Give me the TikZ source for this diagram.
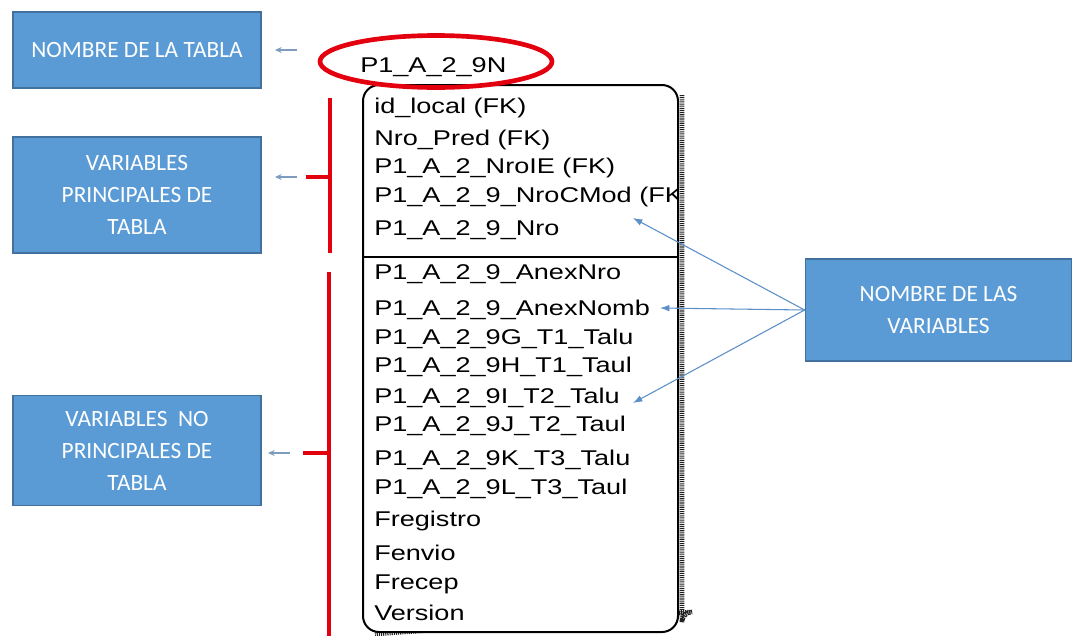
\documentclass[tikz,border=0pt]{standalone}
\usepackage{fontspec}
\setmainfont{Liberation Sans}
\newfontfamily\boxfont{Carlito}
\newfontfamily\tabfont[FakeStretch=1.27]{Liberation Sans}
\usetikzlibrary{arrows.meta,shapes.geometric}
\definecolor{boxblue}{HTML}{5B9BD5}
\definecolor{boxedge}{HTML}{41719C}
\definecolor{pointer}{HTML}{5B8FC8}
\definecolor{hintcol}{HTML}{7D9CBE}
\definecolor{markred}{HTML}{E3000F}
\tikzset{
  labelbox/.style={draw=boxedge,fill=boxblue,line width=0.8pt,text=white,
    font=\boxfont\fontsize{17.5}{24}\selectfont,align=center,inner sep=0pt},
  field/.style={anchor=west,inner sep=0pt,font=\tabfont\fontsize{16}{18}\selectfont},
  pointer/.style={draw=pointer,line width=0.8pt,-{Latex[length=7pt,width=5pt]}},
  hint/.style={draw=hintcol,line width=0.9pt,-{Stealth[length=5pt,width=4.5pt]}},
  bracket/.style={draw=markred,line width=3pt},
}
\begin{document}
\begin{tikzpicture}[x=0.75pt,y=-0.75pt]
  \useasboundingbox (0,0) rectangle (1072,636);
  % recuadros azules
  \node[labelbox,minimum width=186pt,minimum height=57pt] (nomtabla) at (137,50) {NOMBRE DE LA TABLA};
  \node[labelbox,minimum width=186pt,minimum height=87pt] (varprin) at (137,195) {VARIABLES\\PRINCIPALES DE\\TABLA};
  \node[labelbox,minimum width=186pt,minimum height=83pt] (varnoprin) at (137,450.5) {VARIABLES~~NO\\PRINCIPALES DE\\TABLA};
  \node[labelbox,minimum width=200pt,minimum height=76.5pt] (nomvars) at (938.5,310) {NOMBRE DE LAS\\VARIABLES};
  % tabla
  \draw[gray!25!black,line width=3.5pt,dash pattern=on 0.8pt off 0.8pt]
    (682,95) -- (682,622) arc (0:90:-10) -- (375,634);
  \node[draw,fill=white,rounded corners=12pt,line width=1.5pt,minimum width=236.25pt,minimum height=410.25pt] (tabla) at (520.5,358.5) {};
  \draw[line width=1.5pt] (tabla.west |- 0,257) -- (tabla.east |- 0,257);
  \node[ellipse,draw=markred,line width=3.5pt,minimum width=174pt,minimum height=39pt] (tname) at (436,61.5) {};
  \node[field] (tlabel) at (360,67) {P1\_A\_2\_9N};
  \begin{scope}
    \clip (363,85) rectangle (677,632);
    \foreach \y/\n/\t in {108/f1/id\_local (FK),
                          140/f2/Nro\_Pred (FK),
                          168/f3/P1\_A\_2\_NroIE (FK),
                          197/f4/P1\_A\_2\_9\_NroCMod (FK),
                          230/f5/P1\_A\_2\_9\_Nro,
                          274/f6/P1\_A\_2\_9\_AnexNro,
                          310/f7/P1\_A\_2\_9\_AnexNomb,
                          339/f8/P1\_A\_2\_9G\_T1\_Talu,
                          367/f9/P1\_A\_2\_9H\_T1\_Taul,
                          398/f10/P1\_A\_2\_9I\_T2\_Talu,
                          426/f11/P1\_A\_2\_9J\_T2\_Taul,
                          460/f12/P1\_A\_2\_9K\_T3\_Talu,
                          489/f13/P1\_A\_2\_9L\_T3\_Taul,
                          521/f14/Fregistro,
                          553/f15/Fenvio,
                          584/f16/Frecep,
                          613/f17/Version}
      \node[field] (\n) at (374,\y) {\t};
  \end{scope}
  % llaves rojas
  \draw[bracket] (330,98) -- (330,253);
  \draw[bracket] (306,177) -- (330,177);
  \draw[bracket] (329,272) -- (329,636);
  \draw[bracket] (303,453) -- (329,453);
  % flechas cortas
  \foreach \i/\xa/\xb/\y in {1/297/275/50,2/297/275/177,3/290/268/453}{
    \coordinate (hs\i) at (\xa,\y);
    \coordinate (he\i) at (\xb,\y);
    \draw[hint] (hs\i) -- (he\i);
  }
  % flechas a las variables
  \coordinate (tipA) at (633,218);
  \coordinate (tipB) at (660,308);
  \coordinate (tipC) at (633,403);
  \draw[pointer] (nomvars.west) -- (tipA);
  \draw[pointer] (nomvars.west) -- (tipB);
  \draw[pointer] (nomvars.west) -- (tipC);
\end{tikzpicture}
\end{document}
